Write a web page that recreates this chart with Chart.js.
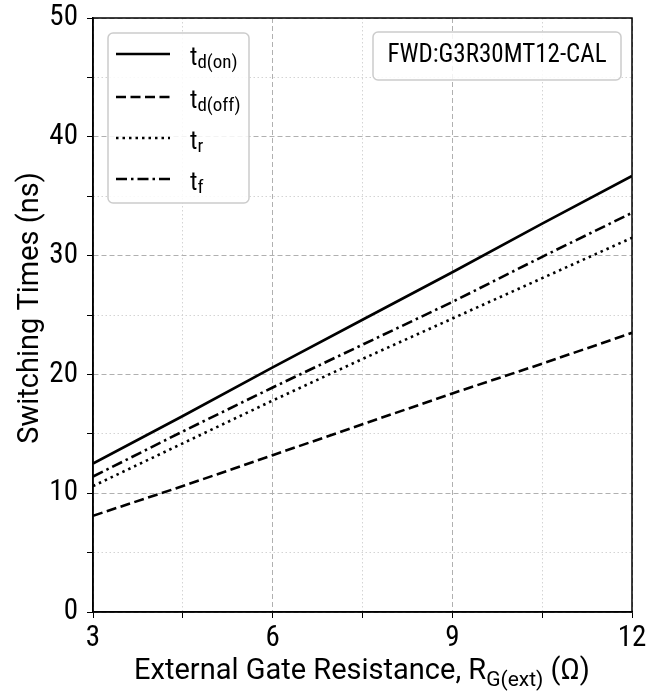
<!DOCTYPE html>
<html>
<head>
<meta charset="utf-8">
<script src="https://cdn.jsdelivr.net/npm/chart.js@4.4.1/dist/chart.umd.min.js"></script>
<style>
  html, body { margin: 0; padding: 0; background: #fff; }
  #wrap { width: 663px; height: 696px; }
</style>
</head>
<body>
<div id="wrap"><canvas id="sw"></canvas></div>
<script>
// gate resistance (ohm) and switching times (ns)
const RG = [3, 4.5, 6, 7.5, 9, 10.5, 12];
const TD_ON = [12.5, 16.5, 20.6, 24.6, 28.6, 32.7, 36.7];
const TD_OFF = [8.1, 10.6, 13.2, 15.8, 18.4, 20.9, 23.5];
const T_R = [10.6, 14.2, 17.8, 21.3, 24.7, 28.1, 31.5];
const T_F = [11.4, 15.2, 18.9, 22.5, 26.1, 29.9, 33.6];

const X_TICKS = [3, 6, 9, 12];
const Y_TICKS = [0, 10, 20, 30, 40, 50];

const NARROW = "'Liberation Sans Narrow', 'Roboto Condensed', Roboto, sans-serif";
const TITLE_FONT = "Roboto, 'Noto Sans', sans-serif";

function series(ys) {
    return RG.map(function (x, i) { return { x: x, y: ys[i] }; });
}

var datasets = [
    { label: 't', sub: 'd(on)', data: series(TD_ON), borderDash: [] },
    { label: 't', sub: 'd(off)', data: series(TD_OFF), borderDash: [10, 4.5] },
    { label: 't', sub: 'r', data: series(T_R), borderDash: [2.5, 4] },
    { label: 't', sub: 'f', data: series(T_F), borderDash: [11, 4, 2.5, 4] },
].map(function (d) {
    return Object.assign({
        borderColor: '#000',
        borderWidth: 2.6,
        pointRadius: 0,
        fill: false,
        tension: 0,
    }, d);
});

function isMajorX(v) { return X_TICKS.indexOf(v) >= 0; }
function isMajorY(v) { return Y_TICKS.indexOf(v) >= 0; }

// frame, legend, annotation box and axis titles
const decorations = {
    id: 'decorations',
    afterDatasetsDraw: function (chart) {
        const ctx = chart.ctx;
        const a = chart.chartArea;
        ctx.save();
        ctx.strokeStyle = '#000';
        ctx.lineWidth = 1.5;
        ctx.strokeRect(a.left, a.top, a.right - a.left, a.bottom - a.top);

        // legend box
        roundBox(ctx, 108, 33, 141, 170);
        const rows = [54, 97, 138, 179];
        chart.data.datasets.forEach(function (ds, i) {
            const y = rows[i];
            ctx.beginPath();
            ctx.setLineDash(ds.borderDash);
            ctx.lineWidth = 2.6;
            ctx.strokeStyle = '#000';
            ctx.moveTo(116, y);
            ctx.lineTo(170, y);
            ctx.stroke();
            ctx.setLineDash([]);
            ctx.fillStyle = '#000';
            ctx.textBaseline = 'alphabetic';
            ctx.textAlign = 'left';
            ctx.font = '25px ' + NARROW;
            ctx.fillText(ds.label, 190, y + 11);
            const w = ctx.measureText(ds.label).width;
            ctx.font = '19px ' + NARROW;
            ctx.fillText(ds.sub, 190 + w, y + 14);
        });

        // part number box
        roundBox(ctx, 373, 32, 248, 48);
        ctx.fillStyle = '#000';
        ctx.font = '25px ' + NARROW;
        ctx.textAlign = 'center';
        ctx.textBaseline = 'middle';
        ctx.fillText('FWD:G3R30MT12-CAL', 497, 56);
        ctx.restore();
    },
    afterDraw: function (chart) {
        const ctx = chart.ctx;
        ctx.save();
        ctx.fillStyle = '#000';
        ctx.textBaseline = 'alphabetic';

        // y title
        ctx.save();
        ctx.translate(38, 308);
        ctx.rotate(-Math.PI / 2);
        ctx.font = '29px ' + TITLE_FONT;
        ctx.textAlign = 'center';
        ctx.fillText('Switching Times (ns)', 0, 0);
        ctx.restore();

        // x title with subscript
        const parts = [
            ['External Gate Resistance, R', '29px', 0],
            ['G(ext)', '21px', 7],
            [' (\u03A9)', '29px', 0],
        ];
        let total = 0;
        parts.forEach(function (p) {
            ctx.font = p[1] + ' ' + TITLE_FONT;
            p.push(ctx.measureText(p[0]).width);
            total += p[3];
        });
        let x = 362 - total / 2;
        ctx.textAlign = 'left';
        parts.forEach(function (p) {
            ctx.font = p[1] + ' ' + TITLE_FONT;
            ctx.fillText(p[0], x, 679 + p[2]);
            x += p[3];
        });
        ctx.restore();
    }
};

function roundBox(ctx, x, y, w, h) {
    ctx.save();
    ctx.setLineDash([]);
    ctx.beginPath();
    ctx.roundRect(x, y, w, h, 5);
    ctx.fillStyle = 'rgba(255,255,255,0.85)';
    ctx.fill();
    ctx.strokeStyle = '#cccccc';
    ctx.lineWidth = 1.5;
    ctx.stroke();
    ctx.restore();
}

var options = {
    responsive: true,
    maintainAspectRatio: false,
    animation: false,
    layout: { padding: { top: 18, right: 31, left: 0, bottom: 0 } },
    plugins: {
        legend: { display: false },
        tooltip: { enabled: false },
    },
    scales: {
        x: {
            type: 'linear',
            min: 3,
            max: 12,
            afterFit: function (s) {
                s.height = 84;
                s.paddingLeft = 0;
                s.paddingRight = 0;
            },
            afterBuildTicks: function (s) {
                s.ticks = [3, 4.5, 6, 7.5, 9, 10.5, 12].map(function (v) { return { value: v }; });
            },
            ticks: {
                autoSkip: false,
                maxRotation: 0,
                color: '#000',
                padding: 6,
                font: { family: NARROW, size: 29, lineHeight: 1 },
                callback: function (v) { return isMajorX(v) ? v : ''; }
            },
            grid: {
                color: function (c) { return c.tick && isMajorX(c.tick.value) ? '#b0b0b0' : '#d4d4d4'; },
                lineWidth: 1,
                tickColor: '#000',
                tickLength: 6,
            },
            border: {
                color: '#000',
                width: 1.5,
                dash: function (c) {
                    if (c.type !== 'tick') return [];
                    return isMajorX(c.tick.value) ? [5, 3] : [1.5, 2.5];
                }
            }
        },
        y: {
            min: 0,
            max: 50,
            afterFit: function (s) {
                s.width = 93;
                s.paddingTop = 0;
                s.paddingBottom = 0;
            },
            ticks: {
                stepSize: 5,
                autoSkip: false,
                color: '#000',
                padding: 9,
                font: { family: NARROW, size: 29, lineHeight: 1 },
                callback: function (v) { return isMajorY(v) ? v : ''; }
            },
            grid: {
                color: function (c) { return c.tick && isMajorY(c.tick.value) ? '#b0b0b0' : '#d4d4d4'; },
                lineWidth: 1,
                tickColor: '#000',
                tickLength: 6,
            },
            border: {
                color: '#000',
                width: 1.5,
                dash: function (c) {
                    if (c.type !== 'tick') return [];
                    return isMajorY(c.tick.value) ? [5, 3] : [1.5, 2.5];
                }
            }
        }
    }
};

var ctx = document.getElementById('sw');

var config = {
    type: 'line',
    data: { datasets: datasets },
    options: options,
    plugins: [decorations]
};

var swChart = new Chart(ctx, config);
</script>
</body>
</html>
